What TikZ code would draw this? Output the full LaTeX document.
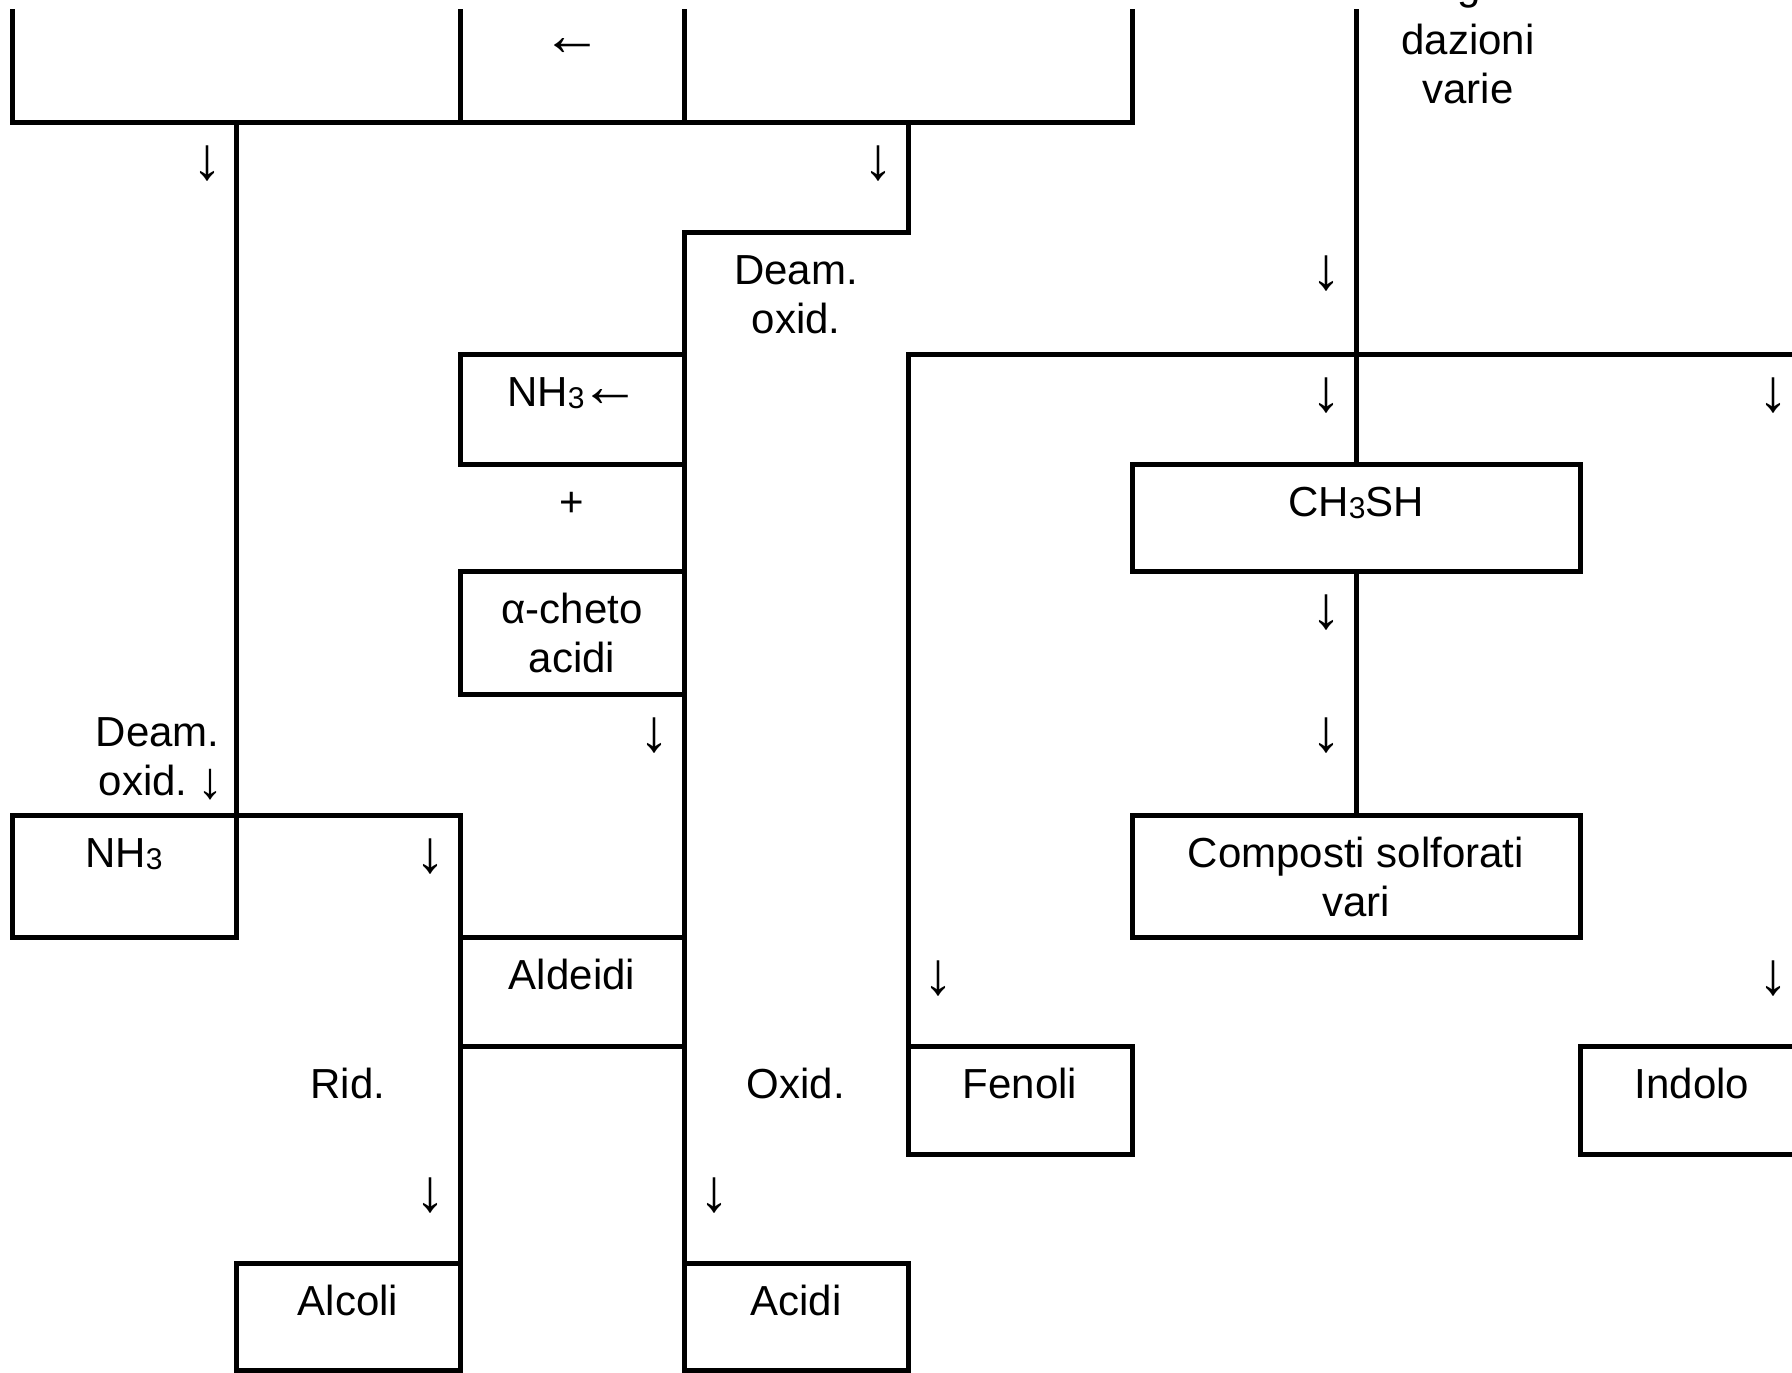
\documentclass[tikz,border=0pt]{standalone}
\usepackage{fontspec}
\setmainfont{Liberation Sans}
\usetikzlibrary{fit}
\newcommand\chemsub[1]{{\fontsize{15}{15}\selectfont\raisebox{-1pt}{#1}}}
\newcommand\bigarrow[1]{{\fontsize{30}{30}\selectfont #1}}
\begin{document}
\begin{tikzpicture}[x=0.5pt,y=-0.5pt,
  rule/.style={line width=2.5pt, line join=miter},
  box/.style={draw, line width=2.5pt, inner sep=0pt, outer sep=0pt},
  lbl/.style={font=\fontsize{21}{24.5}\selectfont, inner sep=0pt, anchor=base, align=center},
  arr/.style={font=\fontsize{30}{30}\selectfont, inner sep=0pt, anchor=base},
]
\useasboundingbox (0,0) rectangle (1792,1372);
\clip (0,0) rectangle (1792,1372);
% grid
\foreach \i/\x in {0/12,1/236,2/460,3/684,4/908,5/1132,6/1356,7/1580,8/1804}{
  \foreach \j/\y in {0/9,1/122,2/232,3/354,4/464,5/571,6/694,7/815,8/937,9/1046,10/1154,11/1263,12/1370}{
    \coordinate (g\i-\j) at (\x,\y);
  }
}
% boxes
\node[box, fit=(g0-7)(g1-8)] (bNH) {};
\node[box, fit=(g2-3)(g3-4)] (bNHa) {};
\node[box, fit=(g2-5)(g3-6)] (bCheto) {};
\node[box, fit=(g2-8)(g3-9)] (bAld) {};
\node[box, fit=(g1-11)(g2-12)] (bAlc) {};
\node[box, fit=(g3-11)(g4-12)] (bAcidi) {};
\node[box, fit=(g4-9)(g5-10)] (bFen) {};
\node[box, fit=(g7-9)(g8-10)] (bInd) {};
\node[box, fit=(g5-4)(g7-5)] (bCH) {};
\node[box, fit=(g5-7)(g7-8)] (bComp) {};
% rules
\draw[rule] (g0-0) -- (g0-1) -- (g5-1) -- (g5-0);
\draw[rule] (g2-0) -- (g2-1);
\draw[rule] (g3-0) -- (g3-1);
\draw[rule] (g1-1) -- (g1-7);
\draw[rule] (g1-7) -- (g2-7) -- (g2-12);
\draw[rule] (g4-1) -- (g4-2) -- (g3-2) -- (g3-12);
\draw[rule] (g8-3) -- (g4-3) -- (g4-9);
\draw[rule] (g6-0) -- (bCH.north);
\draw[rule] (bCH.south) -- (bComp.north);
% texts (anchor base = baseline of the last line)
\node[arr] (tLeft) at (572,55) {←};
\node[lbl] (tDegr) at (1468,103) {Degra-\\[3pt]dazioni\\varie};
\node[arr] (a1) at (207,179) {↓};
\node[arr] (a2) at (878,179) {↓};
\node[lbl] (tDeam1) at (796,333) {Deam.\\oxid.};
\node[arr] (a3) at (1326,289) {↓};
\node[lbl] (tNHa) at (574,406) {NH\chemsub{3}\kern-2pt\bigarrow{←}};
\node[arr] (a4) at (1326,411) {↓};
\node[arr] (a5) at (1773,411) {↓};
\node[lbl] (tPlus) at (572,516) {+};
\node[lbl] (tCH) at (1356,516) {CH\chemsub{3}SH};
\node[lbl] (tCheto) at (572,672) {α-cheto\\acidi};
\node[arr] (a6) at (1326,628) {↓};
\node[lbl, align=right, anchor=base east] (tDeam2) at (220,795) {Deam.\\oxid.\kern5pt{\fontsize{26}{26}\selectfont\raisebox{-1.5pt}{↓}}\kern-2pt};
\node[arr] (a7) at (654,751) {↓};
\node[arr] (a8) at (1326,751) {↓};
\node[lbl] (tNH) at (124,867) {NH\chemsub{3}};
\node[arr] (a9) at (430,872) {↓};
\node[lbl] (tComp) at (1356,916) {Composti solforati\\vari};
\node[lbl] (tAld) at (572,989) {Aldeidi};
\node[arr] (a10) at (938,994) {↓};
\node[arr] (a11) at (1773,994) {↓};
\node[lbl] (tRid) at (348,1098) {Rid.};
\node[lbl] (tOxid) at (796,1098) {Oxid.};
\node[lbl] (tFen) at (1020,1098) {Fenoli};
\node[lbl] (tInd) at (1692,1098) {Indolo};
\node[arr] (a12) at (430,1211) {↓};
\node[arr] (a13) at (714,1211) {↓};
\node[lbl] (tAlc) at (348,1315) {Alcoli};
\node[lbl] (tAcidi) at (796,1315) {Acidi};
\end{tikzpicture}
\end{document}
